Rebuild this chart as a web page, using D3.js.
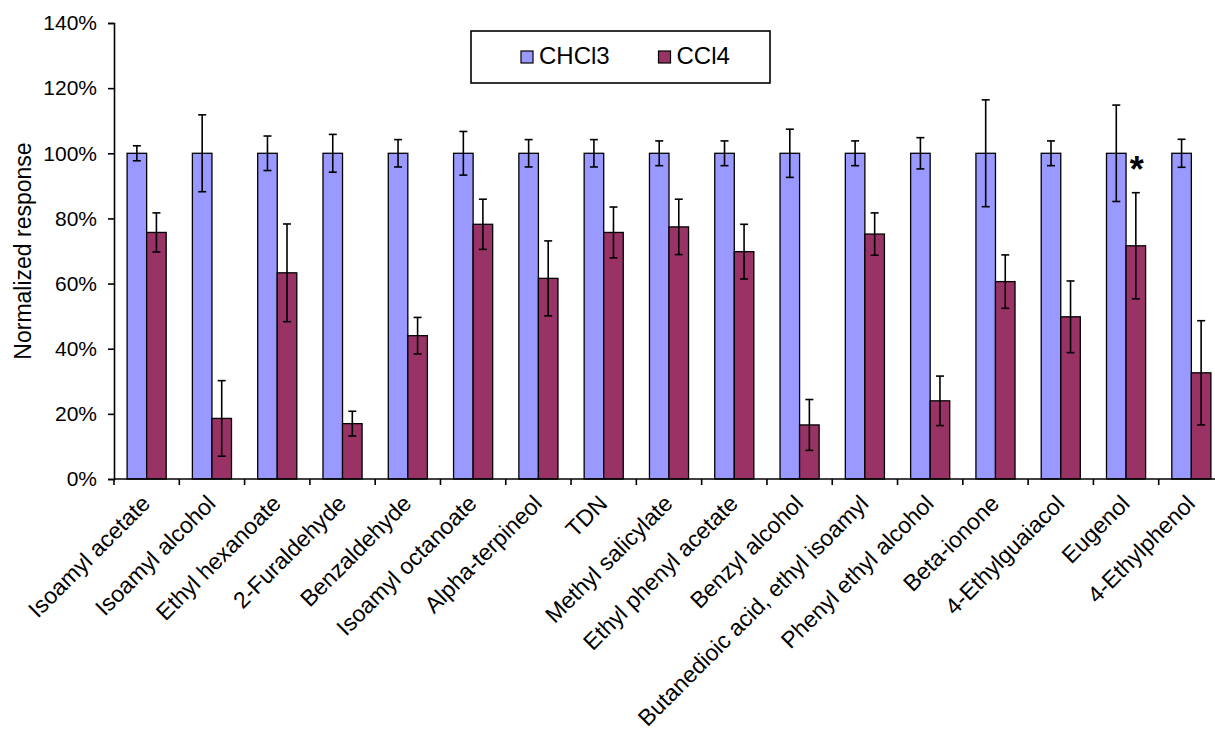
<!DOCTYPE html>
<html>
<head>
<meta charset="utf-8">
<script src="https://cdn.jsdelivr.net/npm/d3@7"></script>
<style>
  body { margin: 0; background: #fff; }
  svg { display: block; font-family: "Liberation Sans", Arial, sans-serif; }
</style>
</head>
<body>
<svg id="chart" width="1215" height="737"></svg>
<script>
// compounds on the x axis
let categories = [
  "Isoamyl acetate", "Isoamyl alcohol", "Ethyl hexanoate", "2-Furaldehyde",
  "Benzaldehyde", "Isoamyl octanoate", "Alpha-terpineol", "TDN",
  "Methyl salicylate", "Ethyl phenyl acetate", "Benzyl alcohol",
  "Butanedioic acid, ethyl isoamyl", "Phenyl ethyl alcohol", "Beta-ionone",
  "4-Ethylguaiacol", "Eugenol", "4-Ethylphenol"
];

let seriesNames = ["CHCl3", "CCl4"];

// normalized response (%)
let chcl3 = [100, 100, 100, 100, 100, 100, 100, 100, 100, 100, 100, 100, 100, 100, 100, 100, 100];
let chcl3Err = [2.3, 11.8, 5.3, 5.8, 4.2, 6.7, 4.2, 4.2, 3.8, 3.8, 7.4, 3.8, 4.8, 16.4, 3.8, 14.8, 4.3];
let ccl4 = [75.7, 18.6, 63.3, 17.0, 44.0, 78.2, 61.6, 75.7, 77.4, 69.8, 16.6, 75.2, 24.0, 60.6, 49.8, 71.6, 32.6];
let ccl4Err = [6.0, 11.6, 15.0, 3.8, 5.6, 7.7, 11.5, 7.8, 8.5, 8.4, 7.8, 6.5, 7.6, 8.2, 11.0, 16.3, 16.0];

let yTicks = [0, 20, 40, 60, 80, 100, 120, 140];
let starred = ["Eugenol"];

let colors = { "CHCl3": "#9999ff", "CCl4": "#993366" };

let svg = d3.select('#chart');

let x0 = d3.scaleBand()
  .domain(categories)
  .range([114, 1224])
  .padding(0);

let x1 = d3.scaleBand()
  .domain(seriesNames)
  .range([0, x0.bandwidth()])
  .paddingInner(0)
  .paddingOuter(0.67);

let y = d3.scaleLinear()
  .domain([0, 140])
  .range([479, 23]);

let rows = categories.map(function(c, i) {
  return {
    name: c,
    values: [
      { key: "CHCl3", v: chcl3[i], e: chcl3Err[i] },
      { key: "CCl4", v: ccl4[i], e: ccl4Err[i] }
    ]
  };
});

// bars
let groups = svg.append('g')
  .selectAll('g')
  .data(rows)
  .join('g')
  .attr('transform', d => `translate(${x0(d.name)},0)`);

groups.selectAll('rect')
  .data(d => d.values)
  .join('rect')
  .attr('x', d => x1(d.key))
  .attr('y', d => y(d.v))
  .attr('width', x1.bandwidth())
  .attr('height', d => y(0) - y(d.v))
  .attr('fill', d => colors[d.key])
  .attr('stroke', '#000')
  .attr('stroke-width', 1.3);

// error bars
let eb = groups.selectAll('g.err')
  .data(d => d.values)
  .join('g')
  .attr('class', 'err')
  .attr('stroke', '#000')
  .attr('stroke-width', 1.6);

let cx = d => x1(d.key) + x1.bandwidth() / 2;

eb.append('line')
  .attr('x1', cx).attr('x2', cx)
  .attr('y1', d => y(d.v + d.e))
  .attr('y2', d => y(d.v - d.e));
eb.append('line')
  .attr('x1', d => cx(d) - 4).attr('x2', d => cx(d) + 4)
  .attr('y1', d => y(d.v + d.e)).attr('y2', d => y(d.v + d.e));
eb.append('line')
  .attr('x1', d => cx(d) - 4).attr('x2', d => cx(d) + 4)
  .attr('y1', d => y(d.v - d.e)).attr('y2', d => y(d.v - d.e));

// significance marker
groups.filter(d => starred.includes(d.name))
  .append('text')
  .attr('x', d => x1("CCl4") + x1.bandwidth() / 2 + 1)
  .attr('y', d => y(d.values[1].v + d.values[1].e) - 11)
  .attr('text-anchor', 'middle')
  .attr('font-size', 36)
  .attr('font-weight', 'bold')
  .text('*');

// y axis
let yAxis = svg.append('g')
  .attr('transform', 'translate(114,0)')
  .call(d3.axisLeft(y).tickValues(yTicks).tickFormat(d => d + '%').tickSize(6).tickPadding(11));
yAxis.select('.domain').attr('stroke', '#000').attr('stroke-width', 1.6);
yAxis.selectAll('.tick line').attr('stroke', '#000').attr('stroke-width', 1.6);
yAxis.selectAll('.tick text')
  .attr('font-size', 21)
  .attr('font-family', '"Liberation Sans", Arial, sans-serif')
  .attr('fill', '#000');

// x axis line and ticks at band edges
svg.append('line')
  .attr('x1', 114).attr('x2', 1215)
  .attr('y1', y(0)).attr('y2', y(0))
  .attr('stroke', '#000').attr('stroke-width', 1.6);

svg.append('g')
  .selectAll('line')
  .data(categories)
  .join('line')
  .attr('x1', d => x0(d)).attr('x2', d => x0(d))
  .attr('y1', y(0)).attr('y2', y(0) + 6)
  .attr('stroke', '#000').attr('stroke-width', 1.6);

svg.append('g')
  .selectAll('text')
  .data(categories)
  .join('text')
  .attr('transform', d => `translate(${x0(d) + x0.bandwidth() / 2 + 5},${y(0) + 26}) rotate(-45)`)
  .attr('text-anchor', 'end')
  .attr('font-size', 23)
  .text(d => d);

// y title
svg.append('text')
  .attr('transform', `translate(31,251) rotate(-90)`)
  .attr('text-anchor', 'middle')
  .attr('font-size', 23)
  .text('Normalized response');

// legend
let legend = svg.append('g');
legend.append('rect')
  .attr('x', 471).attr('y', 31)
  .attr('width', 299).attr('height', 52)
  .attr('fill', '#fff')
  .attr('stroke', '#000')
  .attr('stroke-width', 1.6);

let items = legend.selectAll('g')
  .data(seriesNames)
  .join('g')
  .attr('transform', (d, i) => `translate(${521 + i * 137.5},51)`);
items.append('rect')
  .attr('width', 12).attr('height', 12)
  .attr('fill', d => colors[d])
  .attr('stroke', '#000')
  .attr('stroke-width', 1.2);
items.append('text')
  .attr('x', 18).attr('y', 13)
  .attr('font-size', 24)
  .text(d => d);
</script>
</body>
</html>
